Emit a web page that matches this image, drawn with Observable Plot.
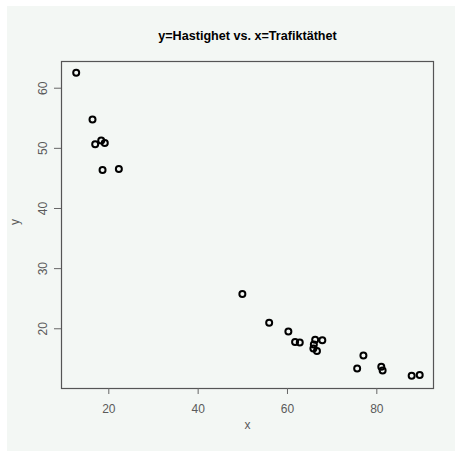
<!DOCTYPE html>
<html><head><meta charset="utf-8">
<script src="https://cdn.jsdelivr.net/npm/d3@7"></script>
<script src="https://cdn.jsdelivr.net/npm/@observablehq/plot@0.6"></script>
<style>
html,body{margin:0;padding:0;background:#fff;}
#chart{position:absolute;left:7px;top:6px;width:448px;height:445px;background:#f3f7f4;}
</style></head><body><div id="chart"></div>
<script>
const trafiktathet = [12.7, 16.35, 16.95, 18.3, 19.1, 18.6, 22.25, 49.9, 55.9, 60.2, 61.7, 62.75, 66.2, 67.8, 65.9, 65.8, 66.6, 75.6, 77.0, 81.0, 81.3, 87.8, 89.6];
const hastighet = [62.55, 54.8, 50.7, 51.3, 50.9, 46.4, 46.55, 25.8, 21.0, 19.55, 17.8, 17.7, 18.17, 18.1, 17.4, 16.7, 16.3, 13.4, 15.55, 13.7, 13.05, 12.2, 12.3];
const xTicks = [20, 40, 60, 80];
const yTicks = [20, 30, 40, 50, 60];
const title = "y=Hastighet vs. x=Trafiktäthet";
const xLabel = "x";
const yLabel = "y";

const data = trafiktathet.map((x, i) => ({x, y: hastighet[i]}));
const font = "'Liberation Sans', Arial, Helvetica, sans-serif";

const plot = Plot.plot({
  width: 448, height: 445,
  marginLeft: 54, marginRight: 22, marginTop: 55, marginBottom: 63,
  style: {background: "transparent", fontFamily: font, fontSize: "12px", color: "#555"},
  x: {domain: [9.41, 92.69]},
  y: {domain: [10.07, 64.44]},
  marks: [
    Plot.frame({stroke: "#555", strokeWidth: 1.2}),
    Plot.axisX({ticks: xTicks, tickSize: 6, tickPadding: 10, label: null, stroke: "#666", fill: "#5a5a5a", fontSize: 12}),
    Plot.axisY({ticks: yTicks, tickSize: 7, tickPadding: 8, tickRotate: -90, label: null, stroke: "#666", fill: "#5a5a5a", fontSize: 12}),
    Plot.dot(data, {x: "x", y: "y", r: 3, stroke: "#000", strokeWidth: 2}),
    Plot.text([title], {frameAnchor: "top", dy: -30, fontWeight: "bold", fontSize: 12.6, fill: "#000"}),
    Plot.text([xLabel], {frameAnchor: "bottom", dy: 40, fontSize: 12, fill: "#5a5a5a"}),
    Plot.text([yLabel], {frameAnchor: "left", dx: -46, rotate: -90, fontSize: 12, fill: "#5a5a5a"})
  ]
});
document.getElementById("chart").appendChild(plot);
</script></body></html>
